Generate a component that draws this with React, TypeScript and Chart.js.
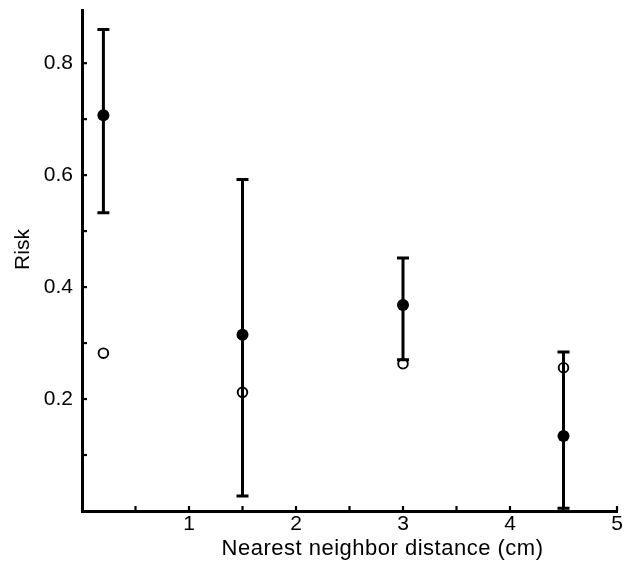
import React, { useEffect, useRef } from "react";
import { Chart, registerables } from "chart.js";

Chart.register(...registerables);

// ---- data ----
const distance = [0.2, 1.5, 3, 4.5];
const riskFilled = [0.707, 0.315, 0.368, 0.134];
const riskUpper = [0.86, 0.592, 0.452, 0.284];
const riskLower = [0.533, 0.027, 0.27, 0.005];
const riskOpen = [0.282, 0.212, 0.263, 0.256];

const yTickLabels = [0.2, 0.4, 0.6, 0.8];
const yMinorTicks = [0.1, 0.3, 0.5, 0.7];
const xTickLabels = [1, 2, 3, 4, 5];
const xMinorTicks = [0.5, 1.5, 2.5, 3.5, 4.5];

const xTitle = "Nearest neighbor distance (cm)";
const yTitle = "Risk";

const FONT = "'Liberation Sans', Arial, Helvetica, sans-serif";

const decorations = {
  id: "decorations",
  beforeDatasetsDraw(chart: any) {
    const { ctx, chartArea } = chart;
    const x = chart.scales.x;
    const y = chart.scales.y;
    ctx.save();
    ctx.strokeStyle = "#000";
    ctx.lineCap = "butt";
    // inward tick marks
    ctx.lineWidth = 2.2;
    [...yTickLabels, ...yMinorTicks].forEach((v) => {
      const py = y.getPixelForValue(v);
      ctx.beginPath();
      ctx.moveTo(chartArea.left, py);
      ctx.lineTo(chartArea.left + 5, py);
      ctx.stroke();
    });
    [...xTickLabels, ...xMinorTicks].forEach((v) => {
      const px = x.getPixelForValue(v);
      ctx.beginPath();
      ctx.moveTo(px, chartArea.bottom);
      ctx.lineTo(px, chartArea.bottom - 5);
      ctx.stroke();
    });
    // error bars
    ctx.lineWidth = 3;
    distance.forEach((d, i) => {
      const px = x.getPixelForValue(d);
      const top = y.getPixelForValue(riskUpper[i]);
      const bot = y.getPixelForValue(riskLower[i]);
      ctx.beginPath();
      ctx.moveTo(px, top);
      ctx.lineTo(px, bot);
      ctx.moveTo(px - 6, top);
      ctx.lineTo(px + 6, top);
      ctx.moveTo(px - 6, bot);
      ctx.lineTo(px + 6, bot);
      ctx.stroke();
    });
    ctx.restore();
  },
  afterDraw(chart: any) {
    const { ctx, chartArea } = chart;
    ctx.save();
    ctx.fillStyle = "#000";
    ctx.textAlign = "center";
    ctx.textBaseline = "middle";
    ctx.font = `22px ${FONT}`;
    try {
      (ctx as any).letterSpacing = "0.5px";
    } catch (e) {}
    ctx.fillText(xTitle, (chartArea.left + chartArea.right) / 2 + 33, chartArea.bottom + 38);
    try {
      (ctx as any).letterSpacing = "0px";
    } catch (e) {}
    ctx.font = `21px ${FONT}`;
    ctx.translate(23, (chartArea.top + chartArea.bottom) / 2 - 11);
    ctx.rotate(-Math.PI / 2);
    ctx.fillText(yTitle, 0, 0);
    ctx.restore();
  },
};

export default function App() {
  const ref = useRef<HTMLCanvasElement | null>(null);

  useEffect(() => {
    if (!ref.current) return;
    const chart = new Chart(ref.current, {
      type: "scatter",
      data: {
        datasets: [
          {
            label: "Risk",
            data: distance.map((d, i) => ({ x: d, y: riskFilled[i] })),
            pointRadius: 6,
            pointBackgroundColor: "#000",
            pointBorderColor: "#000",
            pointBorderWidth: 0,
          },
          {
            label: "Risk (open)",
            data: distance.map((d, i) => ({ x: d, y: riskOpen[i] })),
            pointRadius: 4.8,
            pointBackgroundColor: "rgba(0,0,0,0)",
            pointBorderColor: "#000",
            pointBorderWidth: 1.9,
          },
        ],
      },
      options: {
        responsive: false,
        animation: false,
        layout: { padding: { left: 8, right: 18, top: 10, bottom: 0 } },
        plugins: {
          legend: { display: false },
          tooltip: { enabled: false },
        },
        scales: {
          x: {
            type: "linear",
            min: 0,
            max: 5,
            grid: { display: false },
            border: { display: true, color: "#000", width: 3 },
            afterBuildTicks: (s: any) => {
              s.ticks = xTickLabels.map((v) => ({ value: v }));
            },
            afterFit: (s: any) => {
              s.height = 56;
            },
            ticks: {
              color: "#000",
              padding: -7,
              font: { family: FONT, size: 21 },
              callback: (v: any) => String(v),
            },
          },
          y: {
            type: "linear",
            min: 0,
            max: 0.895,
            grid: { display: false },
            border: { display: true, color: "#000", width: 3 },
            afterBuildTicks: (s: any) => {
              s.ticks = yTickLabels.map((v) => ({ value: v }));
            },
            afterFit: (s: any) => {
              s.width = 74;
              s.paddingTop = 0;
              s.paddingBottom = 0;
            },
            ticks: {
              color: "#000",
              padding: 1,
              font: { family: FONT, size: 21 },
              callback: (v: any) => Number(v).toFixed(1),
            },
          },
        },
      },
      plugins: [decorations],
    } as any);
    return () => chart.destroy();
  }, []);

  return (
    <div style={{ position: "fixed", left: 0, top: 0, width: 635, height: 567, background: "#fff" }}>
      <canvas ref={ref} width={635} height={567} style={{ display: "block" }} />
    </div>
  );
}
